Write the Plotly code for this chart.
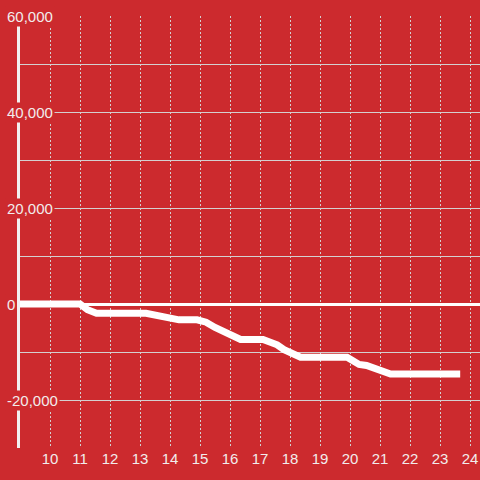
import plotly.graph_objects as go

# Data (hours of day vs cumulative value)
hours = [9.0, 11.0, 11.25, 11.55, 13.2, 13.5, 13.75, 14.0, 14.3, 14.9, 15.2, 15.5, 15.8,
         16.0, 16.15, 16.35, 17.1, 17.3, 17.57, 17.8, 18.0, 18.35, 19.9, 20.1, 20.3,
         20.55, 20.8, 21.0, 21.35, 23.67]
values = [0, 0, -1200, -1950, -1950, -2300, -2900, -2950, -3300, -3300, -3800, -4900, -5700,
          -6100, -6700, -7400, -7400, -7900, -8500, -9500, -10200, -11100, -11100, -11700, -12600,
          -12800, -13400, -13900, -14600, -14600]

x_ticks = list(range(10, 25))
y_label_vals = [60000, 40000, 20000, 0, -20000]
y_label_text = ["60,000", "40,000", "20,000", "0", "-20,000"]

BG = "#CC2A2E"
TXT = "#F2ECEC"
GRID = "#D4D0D0"
FONT = "Liberation Sans, Arial, sans-serif"

fig = go.Figure()
fig.add_trace(go.Scatter(x=hours, y=values, mode="lines",
                         line=dict(color="#FFFFFF", width=7), hoverinfo="skip"))

annotations = []
for v, t in zip(y_label_vals, y_label_text):
    annotations.append(dict(x=-0.032, xref="paper", y=v, yref="y", text=t,
                            xanchor="left", yanchor="middle", showarrow=False,
                            bgcolor=BG, borderpad=1,
                            font=dict(family=FONT, size=15, color=TXT)))

fig.update_layout(
    width=480, height=480,
    margin=dict(l=20, r=0, t=16, b=32, autoexpand=False),
    paper_bgcolor=BG, plot_bgcolor=BG,
    showlegend=False,
    annotations=annotations,
    xaxis=dict(range=[9.0, 24.33], tickvals=x_ticks, ticktext=[str(v) for v in x_ticks],
               showgrid=True, gridcolor=GRID, gridwidth=1, griddash="2px,2px",
               zeroline=False, showline=False, ticks="", automargin=False,
               tickfont=dict(family=FONT, size=15, color=TXT)),
    yaxis=dict(range=[-30000, 60000], dtick=10000, tick0=0,
               showgrid=True, gridcolor=GRID, gridwidth=1,
               zeroline=True, zerolinecolor="#FFFFFF", zerolinewidth=3,
               showline=True, linecolor="#F2F0F0", linewidth=3,
               showticklabels=False, ticks="", automargin=False),
)

fig.write_html("out.html", config={"displayModeBar": False},
               post_script="document.body.style.margin='0px';document.body.style.padding='0px';")
